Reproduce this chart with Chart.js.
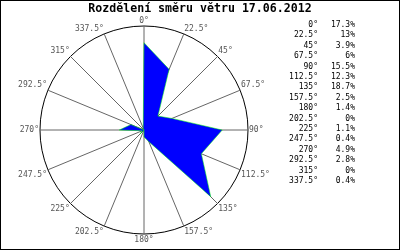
<!DOCTYPE html>
<html>
<head>
<meta charset="utf-8">
<script src="https://cdn.jsdelivr.net/npm/chart.js@4"></script>
<style>
  body { margin: 0; background: #fff; }
  canvas { display: block; }
</style>
</head>
<body>
<canvas id="rose" width="400" height="250"></canvas>
<script>
// wind direction sectors and share of time (%)
const directions = ['0°', '22.5°', '45°', '67.5°', '90°', '112.5°', '135°', '157.5°',
  '180°', '202.5°', '225°', '247.5°', '270°', '292.5°', '315°', '337.5°'];
const shares = [17.3, 13, 3.9, 6, 15.5, 12.3, 18.7, 2.5, 1.4, 0, 1.1, 0.4, 4.9, 2.8, 0, 0.4];
const titleText = 'Rozdělení směru větru 17.06.2012';
const rMax = 20.6;

const FONT = '"DejaVu Sans Mono", monospace';

// title, frame and the direction/share table on the right
const framePlugin = {
  id: 'frame',
  beforeDraw(chart) {
    const ctx = chart.ctx;
    ctx.save();
    ctx.fillStyle = '#fff';
    ctx.fillRect(0, 0, chart.width, chart.height);
    ctx.restore();
  },
  afterDraw(chart) {
    const ctx = chart.ctx;
    ctx.save();
    ctx.strokeStyle = '#000';
    ctx.lineWidth = 1;
    ctx.strokeRect(0.5, 0.5, chart.width - 1, chart.height - 1);

    ctx.fillStyle = '#000';
    ctx.font = 'bold 11.6px ' + FONT;
    ctx.textAlign = 'center';
    ctx.textBaseline = 'middle';
    ctx.fillText(titleText, 200, 9);

    ctx.font = '8px ' + FONT;
    ctx.textAlign = 'right';
    directions.forEach((d, i) => {
      const y = 25 + i * 10.4;
      ctx.fillText(d, 318, y);
      ctx.fillText(shares[i] + '%', 355, y);
    });
    ctx.restore();
  }
};

new Chart(document.getElementById('rose'), {
  type: 'radar',
  data: {
    labels: directions,
    datasets: [{
      data: shares,
      backgroundColor: '#0000ff',
      borderColor: '#00ff00',
      borderWidth: 0.5,
      fill: true,
      pointRadius: 0,
      pointHoverRadius: 0,
      tension: 0
    }]
  },
  options: {
    responsive: false,
    animation: false,
    devicePixelRatio: 1,
    layout: { padding: { left: 8, right: 120, top: 16, bottom: 6 } },
    plugins: {
      legend: { display: false },
      tooltip: { enabled: false },
      title: { display: false }
    },
    scales: {
      r: {
        min: 0,
        max: rMax,
        ticks: { display: false, stepSize: rMax },
        grid: { circular: true, color: '#000', lineWidth: 1 },
        angleLines: { color: '#666', lineWidth: 1 },
        pointLabels: {
          color: '#555',
          padding: 1,
          font: { family: FONT, size: 8, lineHeight: '9px' }
        }
      }
    }
  },
  plugins: [framePlugin]
});
</script>
</body>
</html>
